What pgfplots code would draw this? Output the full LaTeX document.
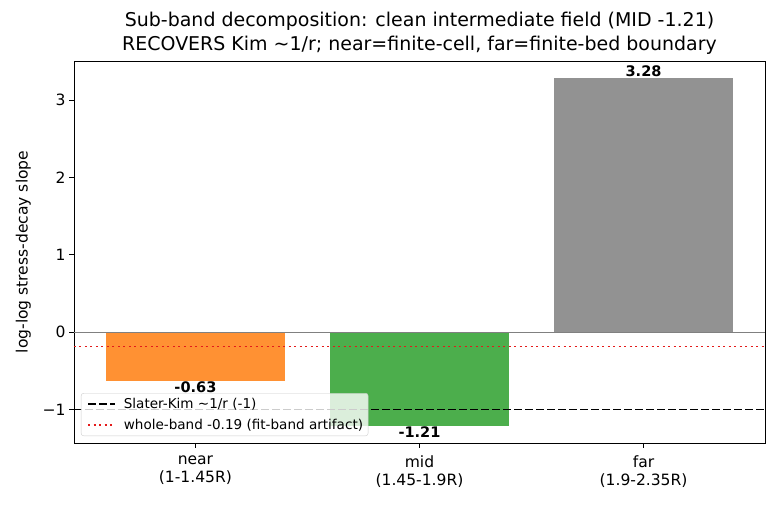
\documentclass[border=0pt]{standalone}
\usepackage{pgfplots}
\pgfplotsset{compat=1.18}
\usepackage{fontspec}
\setmainfont{DejaVu Sans}
\definecolor{cnear}{HTML}{FF9133}
\definecolor{cmid}{HTML}{4CAE4C}
\definecolor{cfar}{HTML}{929292}
\definecolor{lgray}{HTML}{CCCCCC}
\definecolor{cred}{HTML}{E41A1A}
\begin{document}
\begin{tikzpicture}
\useasboundingbox (-74bp,-63bp) rectangle (708bp,443bp);
\begin{axis}[
  at={(0,0)}, anchor=south west,
  width=691bp, height=382bp, scale only axis,
  xmin=-0.542, xmax=2.542, ymin=-1.4345, ymax=3.5045,
  xtick={0,1,2},
  xticklabels={near\\(1-1.45R), mid\\(1.45-1.9R), far\\(1.9-2.35R)},
  xticklabel style={align=center, font=\fontsize{15.6}{18.5}\selectfont, yshift=-4bp},
  ytick={-1,0,1,2,3},
  yticklabels={−1,0,1,2,3},
  yticklabel style={font=\fontsize{15.6}{18.5}\selectfont},
  xtick pos=bottom, ytick pos=left,
  tick align=outside, major tick length=4.9bp,
  tick style={black, line width=0.8bp},
  axis line style={line width=0.8bp},
  ylabel={log-log stress-decay slope},
  ylabel style={font=\fontsize{15.6}{18.5}\selectfont, yshift=5bp},
  title={Sub-band decomposition: clean intermediate field (MID -1.21)\\RECOVERS Kim \textasciitilde1/r; near=finite-cell, far=finite-bed boundary},
  title style={align=center, font=\fontsize{19.05}{24}\selectfont, yshift=-3bp},
  legend style={at={(0.0101,0.0183)}, anchor=south west, fill=white, fill opacity=0.8, text opacity=1, draw=lgray, rounded corners=2.5bp, font=\fontsize{13.6}{15}\selectfont, inner sep=3bp, row sep=5bp},
  legend cell align=left,
  legend image code/.code={\path (-3bp,0bp) (33bp,0bp); \draw[#1] (0bp,0bp) -- (27bp,0bp);},
  point meta=explicit symbolic,
  clip=false,
]
\addplot[ybar, bar width=0.8, bar shift=0pt, fill=cnear, draw=none, forget plot,
  nodes near coords, every node near coord/.append style={anchor=north, font=\bfseries\fontsize{14.6}{16}\selectfont, inner sep=1bp}]
  coordinates {(0,-0.63) [-0.63]};
\addplot[ybar, bar width=0.8, bar shift=0pt, fill=cmid, draw=none, forget plot,
  nodes near coords, every node near coord/.append style={anchor=north, font=\bfseries\fontsize{14.6}{16}\selectfont, inner sep=1bp}]
  coordinates {(1,-1.21) [-1.21]};
\addplot[ybar, bar width=0.8, bar shift=0pt, fill=cfar, draw=none, forget plot,
  nodes near coords, every node near coord/.append style={anchor=south, font=\bfseries\fontsize{14.6}{16}\selectfont, inner sep=1bp}]
  coordinates {(2,3.28) [3.28]};
\addplot[gray, line width=0.9bp, forget plot] coordinates {(-0.542,0) (2.542,0)};
\addplot[black, dash pattern=on 8bp off 3bp, line width=1.7bp] coordinates {(-0.542,-1) (2.542,-1)};
\addlegendentry{Slater-Kim \textasciitilde1/r (-1)}
\addplot[cred, dash pattern=on 2bp off 3.5bp, line width=1.5bp] coordinates {(-0.542,-0.19) (2.542,-0.19)};
\addlegendentry{whole-band -0.19 (fit-band artifact)}
\end{axis}
\end{tikzpicture}
\end{document}
